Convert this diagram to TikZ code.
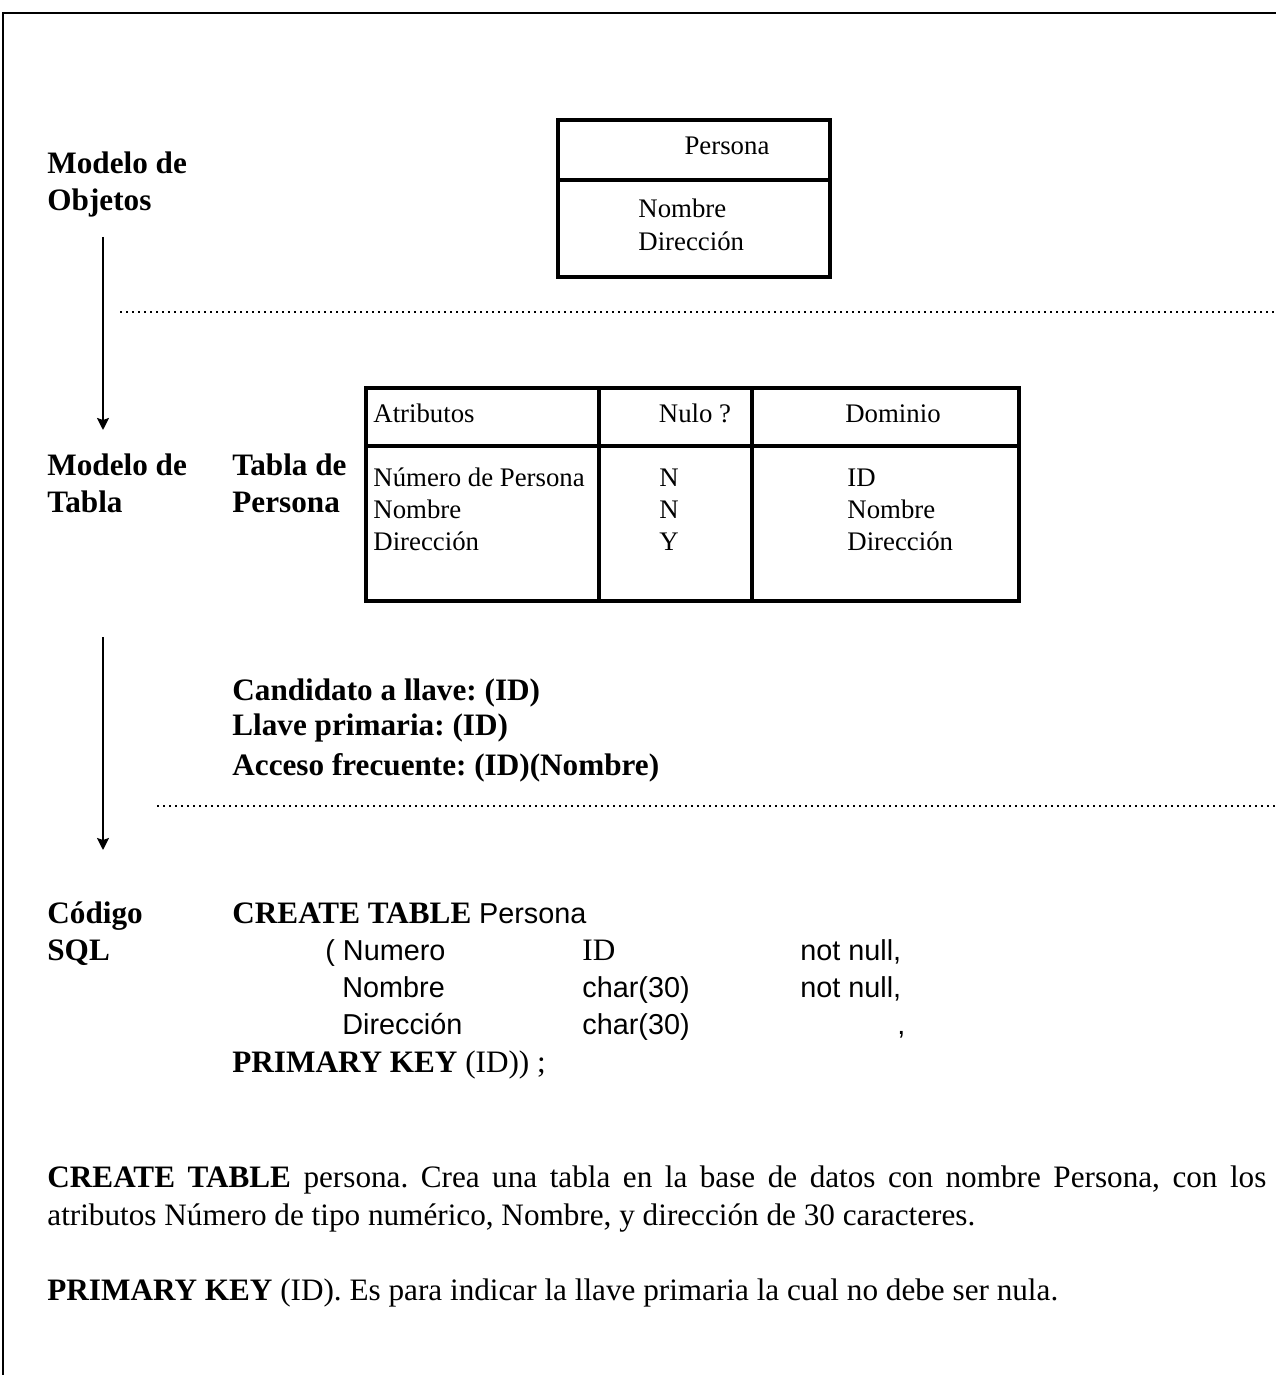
\documentclass[tikz,border=0pt]{standalone}
\usepackage{fontspec}
\setmainfont{Liberation Serif}
\newfontfamily\arialfam{Liberation Sans}
\usetikzlibrary{arrows.meta}
\frenchspacing

\begin{document}
\begin{tikzpicture}[x=0.5pt,y=-0.5pt,
  lbl/.style={anchor=base west, inner sep=0pt, font=\fontsize{15.6}{19}\selectfont\bfseries},
  txt/.style={anchor=base west, inner sep=0pt, font=\fontsize{15.6}{19}\selectfont},
  code/.style={anchor=base west, inner sep=0pt, font=\fontsize{14.4}{18}\selectfont\arialfam},
  cell/.style={anchor=base west, inner sep=0pt, font=\fontsize{13.4}{16}\selectfont},
  frame/.style={line width=2pt},
  sep/.style={line width=1pt, dash pattern=on 1pt off 2pt},
  flow/.style={line width=1pt, -{Stealth[length=6pt,width=6pt,inset=1pt]}},
]
\useasboundingbox (0,0) rectangle (1276,1375);

% page frame
\draw[line width=1.4pt] (3,1375) -- (3,13) -- (1276,13);

% level labels on the left
\node[lbl] (objA) at (47,174) {Modelo de};
\node[lbl] (objB) at (47,211) {Objetos};
\node[lbl] (tabA) at (47,475) {Modelo de};
\node[lbl] (tabB) at (47,512) {Tabla};
\node[lbl] (sqlA) at (47,923) {Código};
\node[lbl] (sqlB) at (47,960) {SQL};

% flow arrows between the levels
\coordinate (f1s) at (103,237);
\coordinate (f1e) at (103,430);
\coordinate (f2s) at (103,637);
\coordinate (f2e) at (103,850);
\draw[flow] (f1s) -- (f1e);
\draw[flow] (f2s) -- (f2e);

% dotted separators
\coordinate (d1s) at (120,312);
\coordinate (d1e) at (1276,312);
\coordinate (d2s) at (157,806);
\coordinate (d2e) at (1276,806);
\draw[sep] (d1s) -- (d1e);
\draw[sep] (d2s) -- (d2e);

% class box
\draw[frame] (558,120) rectangle (830,277);
\draw[frame] (558,180) -- (830,180);
\node[cell, anchor=base] (clsName) at (727,155) {Persona};
\node[cell] (clsA1) at (638,218) {Nombre};
\node[cell] (clsA2) at (638,250) {Dirección};

% table
\node[lbl] (tblA) at (232,475) {Tabla de};
\node[lbl] (tblB) at (232,512) {Persona};
\draw[frame] (366,388) rectangle (1019,601);
\draw[frame] (366,446) -- (1019,446);
\draw[frame] (599,388) -- (599,601);
\draw[frame] (752,388) -- (752,601);
\node[cell] (hA) at (373,422) {Atributos};
\node[cell, anchor=base] (hN) at (695,422) {Nulo ?};
\node[cell, anchor=base] (hD) at (893,422) {Dominio};
\node[cell] (r1a) at (373,486) {Número de Persona};
\node[cell] (r2a) at (373,518) {Nombre};
\node[cell] (r3a) at (373,550) {Dirección};
\node[cell, anchor=base] (r1n) at (669,486) {N};
\node[cell, anchor=base] (r2n) at (669,518) {N};
\node[cell, anchor=base] (r3n) at (669,550) {Y};
\node[cell] (r1d) at (847,486) {ID};
\node[cell] (r2d) at (847,518) {Nombre};
\node[cell] (r3d) at (847,550) {Dirección};

% keys
\node[lbl] (k1) at (232,700) {Candidato a llave: (ID)};
\node[lbl] (k2) at (232,735) {Llave primaria: (ID)};
\node[lbl] (k3) at (232,775) {Acceso frecuente: (ID)(Nombre)};

% SQL code
\node[lbl] (c0) at (232,923) {CREATE TABLE};
\node[code] (c0b) at ([xshift=3.5pt]c0.base east) {Persona};
\node[code] (c1a) at (325,960) {( Numero};
\node[txt] (c1b) at (582,960) {ID};
\node[code] (c1c) at (800,960) {not null,};
\node[code] (c2a) at (342,997) {Nombre};
\node[code] (c2b) at (582,997) {char(30)};
\node[code] (c2c) at (800,997) {not null,};
\node[code] (c3a) at (342,1034) {Dirección};
\node[code] (c3b) at (582,1034) {char(30)};
\node[code] (c3c) at (897,1034) {,};
\node[txt] (c4) at (232,1072) {\textbf{PRIMARY KEY} (ID)) ;};

% explanation
\node[txt, text width=609.5pt, align=justify] (p1) at (47,1187)
  {\textbf{CREATE TABLE} persona. Crea una tabla en la base de datos con nombre Persona, con los\linebreak
   atributos Número de tipo numérico, Nombre, y dirección de 30 caracteres.};
\node[txt] (p2) at (47,1300) {\textbf{PRIMARY KEY} (ID). Es para indicar la llave primaria la cual no debe ser nula.};
\end{tikzpicture}
\end{document}
